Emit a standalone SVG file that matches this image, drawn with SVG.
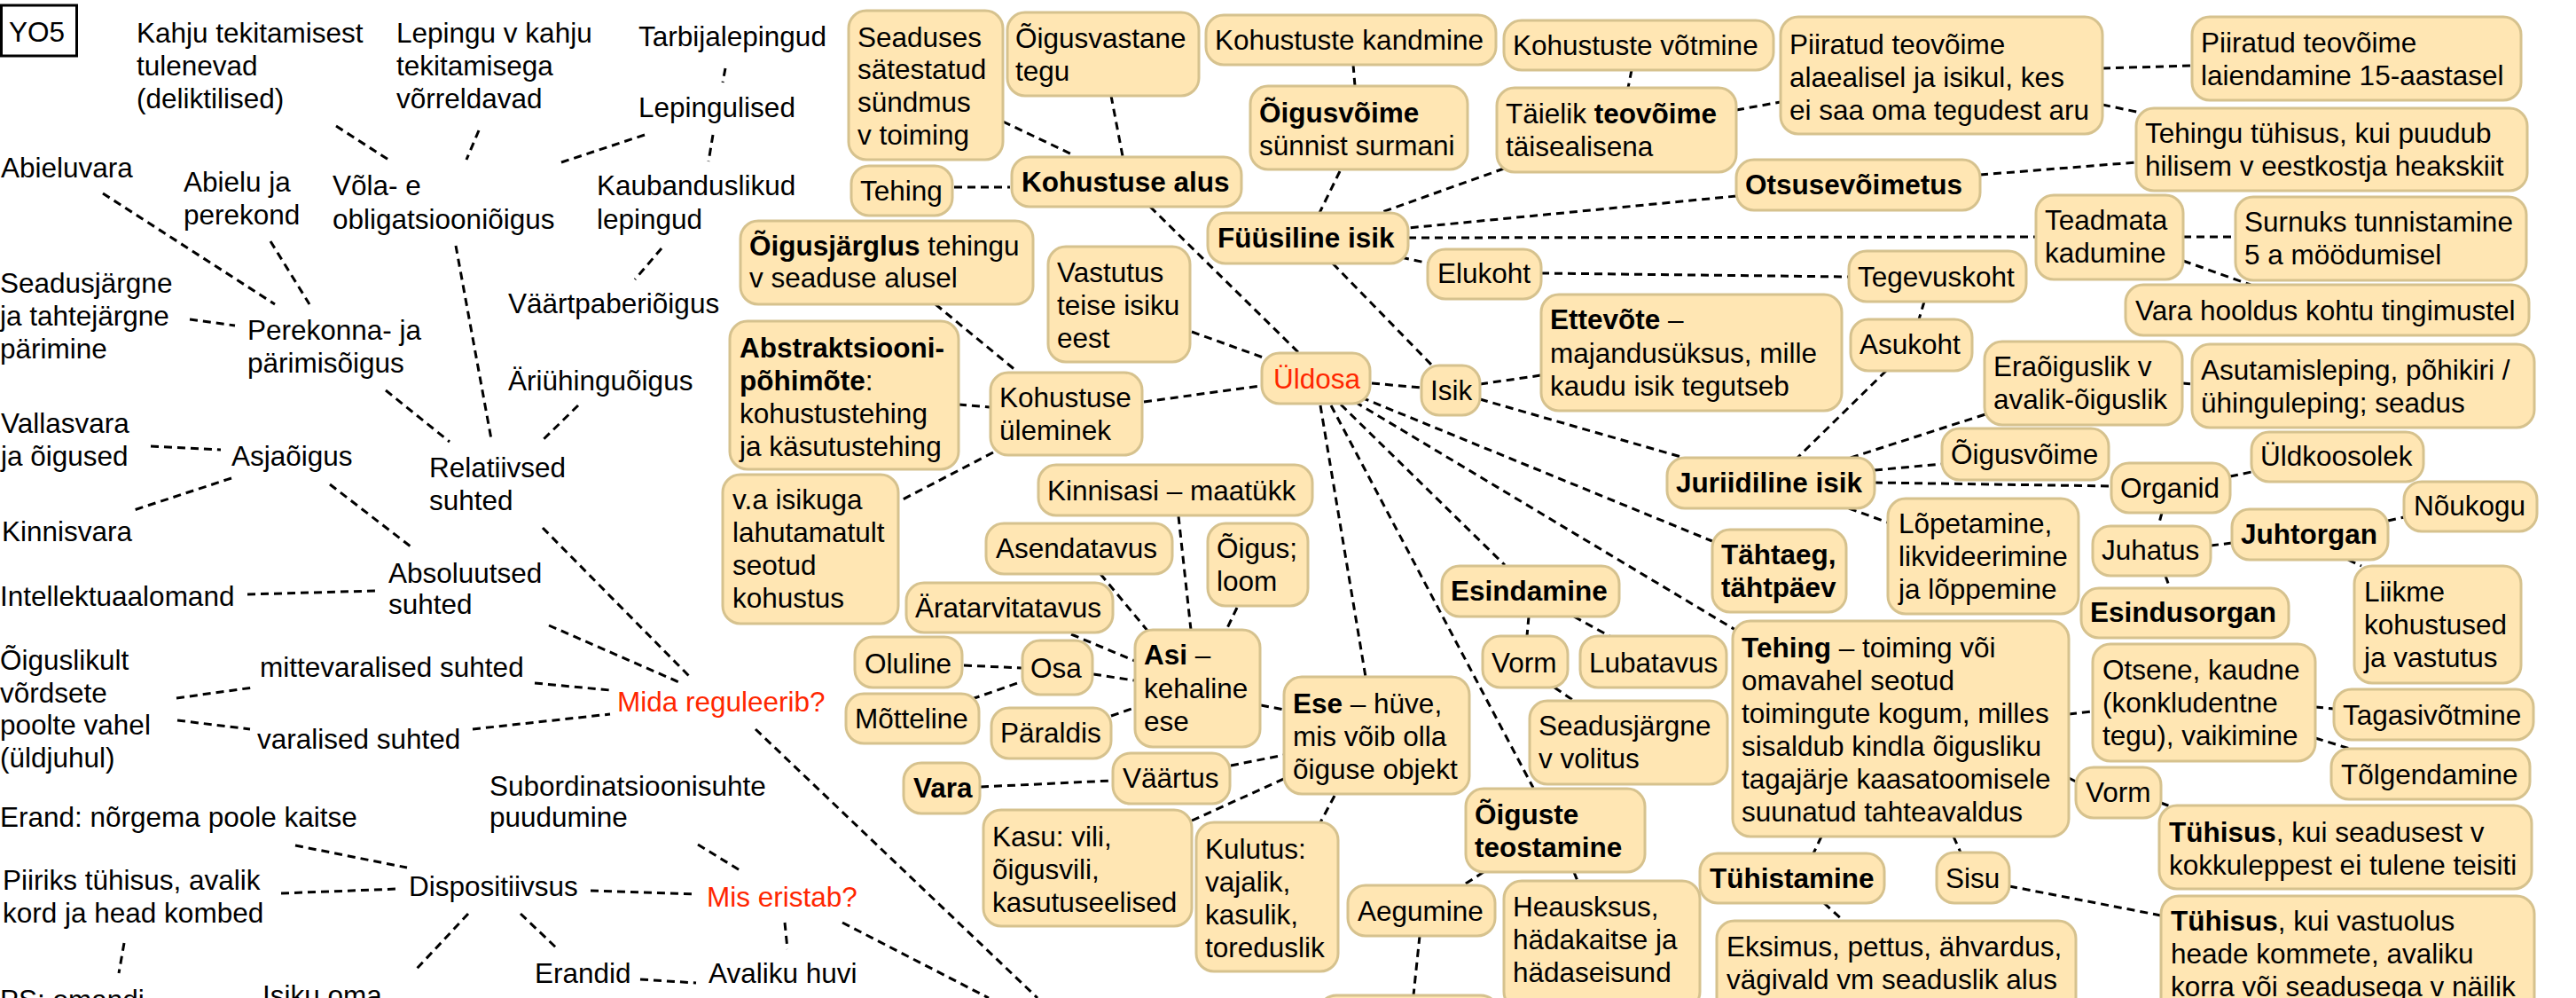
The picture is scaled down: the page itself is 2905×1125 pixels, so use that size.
<svg xmlns="http://www.w3.org/2000/svg" width="2905" height="1125" viewBox="0 0 2905 1125">
<style>
text{font-family:"Liberation Sans",Arial,Helvetica,sans-serif;font-size:31.5px;fill:#000}
.b{font-weight:bold}
.red{fill:#FF2600}
.box{fill:#FFE6B3;stroke:#D6C28E;stroke-width:3}
.c line{stroke:#000;stroke-width:3;stroke-dasharray:9 6}
</style>
<rect width="2905" height="1125" fill="#fff"/>
<g class="c">
<line x1="379" y1="142" x2="438" y2="180"/>
<line x1="540" y1="147" x2="526" y2="180"/>
<line x1="727" y1="152" x2="633" y2="183"/>
<line x1="818" y1="77" x2="815" y2="93"/>
<line x1="804" y1="152" x2="799" y2="182"/>
<line x1="746" y1="280" x2="716" y2="315"/>
<line x1="116" y1="218" x2="310" y2="343"/>
<line x1="305" y1="272" x2="349" y2="343"/>
<line x1="214" y1="360" x2="265" y2="367"/>
<line x1="514" y1="277" x2="554" y2="495"/>
<line x1="435" y1="440" x2="507" y2="498"/>
<line x1="652" y1="457" x2="610" y2="498"/>
<line x1="170" y1="503" x2="249" y2="507"/>
<line x1="261" y1="539" x2="151" y2="575"/>
<line x1="372" y1="546" x2="463" y2="616"/>
<line x1="279" y1="670" x2="424" y2="666"/>
<line x1="612" y1="595" x2="780" y2="765"/>
<line x1="619" y1="705" x2="768" y2="770"/>
<line x1="199" y1="787" x2="285" y2="775"/>
<line x1="200" y1="812" x2="282" y2="822"/>
<line x1="603" y1="770" x2="688" y2="778"/>
<line x1="533" y1="822" x2="688" y2="805"/>
<line x1="333" y1="953" x2="459" y2="978"/>
<line x1="317" y1="1007" x2="449" y2="1002"/>
<line x1="666" y1="1004" x2="785" y2="1008"/>
<line x1="787" y1="952" x2="836" y2="982"/>
<line x1="140" y1="1063" x2="134" y2="1097"/>
<line x1="528" y1="1030" x2="470" y2="1092"/>
<line x1="587" y1="1030" x2="629" y2="1070"/>
<line x1="722" y1="1104" x2="785" y2="1108"/>
<line x1="885" y1="1040" x2="888" y2="1070"/>
<line x1="950" y1="1040" x2="1115" y2="1125"/>
<line x1="852" y1="822" x2="1170" y2="1125"/>
<line x1="1131" y1="137" x2="1211" y2="175"/>
<line x1="1253" y1="108" x2="1266" y2="176"/>
<line x1="1076" y1="211" x2="1139" y2="211"/>
<line x1="1297" y1="233" x2="1465" y2="398"/>
<line x1="1055" y1="343" x2="1146" y2="418"/>
<line x1="1081" y1="456" x2="1116" y2="459"/>
<line x1="1290" y1="453" x2="1421" y2="435"/>
<line x1="1344" y1="374" x2="1430" y2="405"/>
<line x1="1120" y1="510" x2="1018" y2="563"/>
<line x1="1329" y1="582" x2="1343" y2="710"/>
<line x1="1241" y1="647" x2="1295" y2="712"/>
<line x1="1395" y1="685" x2="1383" y2="710"/>
<line x1="1208" y1="715" x2="1280" y2="745"/>
<line x1="1087" y1="750" x2="1152" y2="753"/>
<line x1="1233" y1="760" x2="1279" y2="767"/>
<line x1="1096" y1="788" x2="1153" y2="768"/>
<line x1="1253" y1="807" x2="1279" y2="798"/>
<line x1="1106" y1="887" x2="1254" y2="880"/>
<line x1="1388" y1="863" x2="1448" y2="851"/>
<line x1="1422" y1="795" x2="1448" y2="800"/>
<line x1="1344" y1="925" x2="1450" y2="877"/>
<line x1="1505" y1="897" x2="1489" y2="927"/>
<line x1="1489" y1="457" x2="1540" y2="763"/>
<line x1="1501" y1="457" x2="1729" y2="888"/>
<line x1="1512" y1="456" x2="1697" y2="637"/>
<line x1="1528" y1="453" x2="1957" y2="710"/>
<line x1="1535" y1="448" x2="1931" y2="610"/>
<line x1="1547" y1="432" x2="1603" y2="437"/>
<line x1="1669" y1="433" x2="1738" y2="423"/>
<line x1="1669" y1="450" x2="1899" y2="516"/>
<line x1="1503" y1="297" x2="1616" y2="413"/>
<line x1="1511" y1="193" x2="1488" y2="240"/>
<line x1="1526" y1="73" x2="1528" y2="97"/>
<line x1="1696" y1="190" x2="1556" y2="240"/>
<line x1="1840" y1="79" x2="1836" y2="99"/>
<line x1="1958" y1="124" x2="2008" y2="115"/>
<line x1="2371" y1="77" x2="2472" y2="74"/>
<line x1="2371" y1="118" x2="2414" y2="127"/>
<line x1="2233" y1="197" x2="2409" y2="183"/>
<line x1="1958" y1="221" x2="1588" y2="257"/>
<line x1="1588" y1="268" x2="2296" y2="267"/>
<line x1="1580" y1="290" x2="1612" y2="297"/>
<line x1="1738" y1="308" x2="2085" y2="312"/>
<line x1="2170" y1="340" x2="2164" y2="360"/>
<line x1="2462" y1="267" x2="2521" y2="267"/>
<line x1="2462" y1="294" x2="2538" y2="321"/>
<line x1="2127" y1="418" x2="2027" y2="516"/>
<line x1="2087" y1="516" x2="2239" y2="467"/>
<line x1="2461" y1="432" x2="2472" y2="433"/>
<line x1="2114" y1="530" x2="2190" y2="523"/>
<line x1="2114" y1="544" x2="2381" y2="548"/>
<line x1="2085" y1="573" x2="2129" y2="589"/>
<line x1="2515" y1="537" x2="2539" y2="532"/>
<line x1="2438" y1="578" x2="2434" y2="593"/>
<line x1="2493" y1="615" x2="2517" y2="612"/>
<line x1="2693" y1="587" x2="2711" y2="583"/>
<line x1="2648" y1="631" x2="2663" y2="638"/>
<line x1="2442" y1="649" x2="2447" y2="663"/>
<line x1="1724" y1="695" x2="1722" y2="717"/>
<line x1="1775" y1="695" x2="1815" y2="717"/>
<line x1="1753" y1="775" x2="1775" y2="790"/>
<line x1="1673" y1="983" x2="1650" y2="998"/>
<line x1="1775" y1="983" x2="1779" y2="993"/>
<line x1="1601" y1="1055" x2="1594" y2="1122"/>
<line x1="2054" y1="943" x2="2045" y2="962"/>
<line x1="2057" y1="1018" x2="2079" y2="1038"/>
<line x1="2333" y1="805" x2="2360" y2="802"/>
<line x1="2611" y1="797" x2="2632" y2="799"/>
<line x1="2611" y1="832" x2="2650" y2="844"/>
<line x1="2333" y1="877" x2="2341" y2="881"/>
<line x1="2437" y1="905" x2="2450" y2="910"/>
<line x1="2203" y1="943" x2="2211" y2="961"/>
<line x1="2266" y1="999" x2="2437" y2="1032"/>
</g>

<g id="yo5"><rect x="1.5" y="6" width="85" height="57" fill="#fff" stroke="#000" stroke-width="3"/><text x="10" y="47">YO5</text></g>
<g id="kahju"><text><tspan x="154" y="48">Kahju tekitamisest</tspan><tspan x="154" y="85">tulenevad</tspan><tspan x="154" y="122">(deliktilised)</tspan></text></g>
<g id="lepingu"><text><tspan x="447" y="48">Lepingu v kahju</tspan><tspan x="447" y="85">tekitamisega</tspan><tspan x="447" y="122">võrreldavad</tspan></text></g>
<g id="tarbija"><text x="720" y="52">Tarbijalepingud</text></g>
<g id="lepingulised"><text x="720" y="132">Lepingulised</text></g>
<g id="abieluvara"><text x="1" y="200">Abieluvara</text></g>
<g id="abielu"><text><tspan x="207" y="216">Abielu ja</tspan><tspan x="207" y="253">perekond</tspan></text></g>
<g id="vola"><text><tspan x="375" y="220">Võla- e</tspan><tspan x="375" y="258">obligatsiooniõigus</tspan></text></g>
<g id="kaubandus"><text><tspan x="673" y="220">Kaubanduslikud</tspan><tspan x="673" y="258">lepingud</tspan></text></g>
<g id="vaartpaber"><text x="573" y="353">Väärtpaberiõigus</text></g>
<g id="seadusjargne"><text><tspan x="0" y="330">Seadusjärgne</tspan><tspan x="0" y="367">ja tahtejärgne</tspan><tspan x="0" y="404">pärimine</tspan></text></g>
<g id="perekonna"><text><tspan x="279" y="383">Perekonna- ja</tspan><tspan x="279" y="420">pärimisõigus</tspan></text></g>
<g id="ariuhingu"><text x="573" y="440">Äriühinguõigus</text></g>
<g id="relatiivsed"><text><tspan x="484" y="538">Relatiivsed</tspan><tspan x="484" y="575">suhted</tspan></text></g>
<g id="vallasvara"><text><tspan x="1" y="488">Vallasvara</tspan><tspan x="1" y="525">ja õigused</tspan></text></g>
<g id="asjaoigus"><text x="261" y="525">Asjaõigus</text></g>
<g id="kinnisvara"><text x="2" y="610">Kinnisvara</text></g>
<g id="absoluutsed"><text><tspan x="438" y="657">Absoluutsed</tspan><tspan x="438" y="692">suhted</tspan></text></g>
<g id="intellektuaal"><text x="0" y="683">Intellektuaalomand</text></g>
<g id="oiguslikult"><text><tspan x="0" y="755">Õiguslikult</tspan><tspan x="0" y="792">võrdsete</tspan><tspan x="0" y="828">poolte vahel</tspan><tspan x="0" y="865">(üldjuhul)</tspan></text></g>
<g id="mittevaralised"><text x="293" y="763">mittevaralised suhted</text></g>
<g id="varalised"><text x="290" y="844">varalised suhted</text></g>
<g id="mida"><text class="red" x="696" y="802">Mida reguleerib?</text></g>
<g id="subordinatsioon"><text><tspan x="552" y="897">Subordinatsioonisuhte</tspan><tspan x="552" y="932">puudumine</tspan></text></g>
<g id="erand"><text x="0" y="932">Erand: nõrgema poole kaitse</text></g>
<g id="piiriks"><text><tspan x="3" y="1003">Piiriks tühisus, avalik</tspan><tspan x="3" y="1040">kord ja head kombed</tspan></text></g>
<g id="dispositiivsus"><text x="461" y="1010">Dispositiivsus</text></g>
<g id="miseristab"><text class="red" x="797" y="1022">Mis eristab?</text></g>
<g id="erandid"><text x="603" y="1108">Erandid</text></g>
<g id="avaliku"><text x="799" y="1108">Avaliku huvi</text></g>
<g id="isikuoma"><text x="296" y="1133">Isiku oma</text></g>
<g id="ps"><text x="0" y="1138">PS: omandi</text></g>

<g id="seaduses"><rect class="box" x="957" y="12" width="174" height="168" rx="20"/><text><tspan x="967" y="53">Seaduses</tspan><tspan x="967" y="89">sätestatud</tspan><tspan x="967" y="126">sündmus</tspan><tspan x="967" y="163">v toiming</tspan></text></g>
<g id="oigusvastane"><rect class="box" x="1136" y="14" width="216" height="94" rx="20"/><text><tspan x="1145" y="54">Õigusvastane</tspan><tspan x="1145" y="91">tegu</tspan></text></g>
<g id="tehing1"><rect class="box" x="960" y="187" width="114" height="56" rx="20"/><text x="970" y="226">Tehing</text></g>
<g id="kohustusealus"><rect class="box" x="1141" y="177" width="259" height="56" rx="20"/><text class="b" x="1152" y="216">Kohustuse alus</text></g>
<g id="kandmine"><rect class="box" x="1360" y="17" width="327" height="56" rx="20"/><text x="1370" y="56">Kohustuste kandmine</text></g>
<g id="oigusvoime1"><rect class="box" x="1410" y="97" width="245" height="94" rx="20"/><text><tspan x="1420" y="138" class="b">Õigusvõime</tspan><tspan x="1420" y="175">sünnist surmani</tspan></text></g>
<g id="votmine"><rect class="box" x="1696" y="23" width="304" height="56" rx="20"/><text x="1706" y="62">Kohustuste võtmine</text></g>
<g id="taielik"><rect class="box" x="1688" y="99" width="270" height="95" rx="20"/><text><tspan x="1698" y="139">Täielik <tspan class="b">teovõime</tspan></tspan><tspan x="1698" y="176">täisealisena</tspan></text></g>
<g id="piiratud"><rect class="box" x="2008" y="19" width="363" height="132" rx="20"/><text><tspan x="2018" y="61">Piiratud teovõime</tspan><tspan x="2018" y="98">alaealisel ja isikul, kes</tspan><tspan x="2018" y="135">ei saa oma tegudest aru</tspan></text></g>
<g id="piiratud15"><rect class="box" x="2472" y="19" width="371" height="94" rx="20"/><text><tspan x="2482" y="59">Piiratud teovõime</tspan><tspan x="2482" y="96">laiendamine 15-aastasel</tspan></text></g>
<g id="tehingututhisus"><rect class="box" x="2409" y="122" width="441" height="93" rx="20"/><text><tspan x="2419" y="161">Tehingu tühisus, kui puudub</tspan><tspan x="2419" y="198">hilisem v eestkostja heakskiit</tspan></text></g>
<g id="otsusevoimetus"><rect class="box" x="1958" y="180" width="275" height="57" rx="20"/><text class="b" x="1968" y="219">Otsusevõimetus</text></g>
<g id="fuusiline"><rect class="box" x="1362" y="240" width="226" height="57" rx="20"/><text class="b" x="1373" y="279">Füüsiline isik</text></g>
<g id="elukoht"><rect class="box" x="1610" y="281" width="128" height="56" rx="20"/><text x="1621" y="319">Elukoht</text></g>
<g id="tegevuskoht"><rect class="box" x="2085" y="283" width="200" height="57" rx="20"/><text x="2095" y="323">Tegevuskoht</text></g>
<g id="teadmata"><rect class="box" x="2296" y="220" width="166" height="95" rx="20"/><text><tspan x="2306" y="259">Teadmata</tspan><tspan x="2306" y="296">kadumine</tspan></text></g>
<g id="surnuks"><rect class="box" x="2521" y="222" width="328" height="94" rx="20"/><text><tspan x="2531" y="261">Surnuks tunnistamine</tspan><tspan x="2531" y="298">5 a möödumisel</tspan></text></g>
<g id="varahooldus"><rect class="box" x="2397" y="321" width="455" height="57" rx="20"/><text x="2408" y="361">Vara hooldus kohtu tingimustel</text></g>
<g id="ettevote"><rect class="box" x="1738" y="332" width="339" height="131" rx="20"/><text><tspan x="1748" y="371"><tspan class="b">Ettevõte</tspan> –</tspan><tspan x="1748" y="409">majandusüksus, mille</tspan><tspan x="1748" y="446">kaudu isik tegutseb</tspan></text></g>
<g id="asukoht"><rect class="box" x="2087" y="360" width="137" height="58" rx="20"/><text x="2097" y="399">Asukoht</text></g>
<g id="oigusjarglus"><rect class="box" x="835" y="249" width="330" height="94" rx="20"/><text><tspan x="845" y="288"><tspan class="b">Õigusjärglus</tspan> tehingu</tspan><tspan x="845" y="324">v seaduse alusel</tspan></text></g>
<g id="vastutus"><rect class="box" x="1182" y="278" width="160" height="130" rx="20"/><text><tspan x="1192" y="318">Vastutus</tspan><tspan x="1192" y="355">teise isiku</tspan><tspan x="1192" y="392">eest</tspan></text></g>
<g id="abstraktsiooni"><rect class="box" x="823" y="362" width="258" height="167" rx="20"/><text><tspan x="834" y="403" class="b">Abstraktsiooni-</tspan><tspan x="834" y="440"><tspan class="b">põhimõte</tspan>:</tspan><tspan x="834" y="477">kohustustehing</tspan><tspan x="834" y="514">ja käsutustehing</tspan></text></g>
<g id="uleminek"><rect class="box" x="1117" y="420" width="171" height="93" rx="20"/><text><tspan x="1127" y="459">Kohustuse</tspan><tspan x="1127" y="496">üleminek</tspan></text></g>
<g id="vaisikuga"><rect class="box" x="815" y="535" width="198" height="168" rx="20"/><text><tspan x="826" y="574">v.a isikuga</tspan><tspan x="826" y="611">lahutamatult</tspan><tspan x="826" y="648">seotud</tspan><tspan x="826" y="685">kohustus</tspan></text></g>
<g id="uldosa"><rect class="box" x="1423" y="398" width="122" height="57" rx="20"/><text class="red" x="1436" y="438">Üldosa</text></g>
<g id="isik"><rect class="box" x="1603" y="412" width="66" height="56" rx="20"/><text x="1613" y="451">Isik</text></g>
<g id="eraoiguslik"><rect class="box" x="2238" y="385" width="223" height="94" rx="20"/><text><tspan x="2248" y="424">Eraõiguslik v</tspan><tspan x="2248" y="461">avalik-õiguslik</tspan></text></g>
<g id="asutamisleping"><rect class="box" x="2472" y="388" width="386" height="94" rx="20"/><text><tspan x="2482" y="428">Asutamisleping, põhikiri /</tspan><tspan x="2482" y="465">ühinguleping; seadus</tspan></text></g>
<g id="juriidiline"><rect class="box" x="1880" y="516" width="234" height="57" rx="20"/><text class="b" x="1890" y="555">Juriidiline isik</text></g>
<g id="oigusvoime2"><rect class="box" x="2190" y="483" width="188" height="58" rx="20"/><text x="2200" y="523">Õigusvõime</text></g>
<g id="organid"><rect class="box" x="2381" y="522" width="134" height="56" rx="20"/><text x="2391" y="561">Organid</text></g>
<g id="uldkoosolek"><rect class="box" x="2539" y="487" width="194" height="56" rx="20"/><text x="2549" y="525">Üldkoosolek</text></g>
<g id="noukogu"><rect class="box" x="2711" y="543" width="150" height="56" rx="20"/><text x="2722" y="581">Nõukogu</text></g>
<g id="juhatus"><rect class="box" x="2360" y="593" width="133" height="56" rx="20"/><text x="2370" y="631">Juhatus</text></g>
<g id="juhtorgan"><rect class="box" x="2517" y="574" width="176" height="57" rx="20"/><text class="b" x="2527" y="613">Juhtorgan</text></g>
<g id="lopetamine"><rect class="box" x="2129" y="562" width="215" height="130" rx="20"/><text><tspan x="2141" y="601">Lõpetamine,</tspan><tspan x="2141" y="638">likvideerimine</tspan><tspan x="2141" y="675">ja lõppemine</tspan></text></g>
<g id="liikme"><rect class="box" x="2655" y="638" width="188" height="132" rx="20"/><text><tspan x="2666" y="678">Liikme</tspan><tspan x="2666" y="715">kohustused</tspan><tspan x="2666" y="752">ja vastutus</tspan></text></g>
<g id="esindusorgan"><rect class="box" x="2347" y="663" width="234" height="56" rx="20"/><text class="b" x="2357" y="701">Esindusorgan</text></g>
<g id="tahtaeg"><rect class="box" x="1931" y="597" width="151" height="93" rx="20"/><text class="b"><tspan x="1941" y="636">Tähtaeg,</tspan><tspan x="1941" y="673">tähtpäev</tspan></text></g>
<g id="kinnisasi"><rect class="box" x="1171" y="524" width="309" height="57" rx="20"/><text x="1181" y="564">Kinnisasi – maatükk</text></g>
<g id="asendatavus"><rect class="box" x="1112" y="590" width="210" height="57" rx="20"/><text x="1123" y="629">Asendatavus</text></g>
<g id="oigusloom"><rect class="box" x="1362" y="590" width="113" height="93" rx="20"/><text><tspan x="1372" y="629">Õigus;</tspan><tspan x="1372" y="666">loom</tspan></text></g>
<g id="aratarvitatavus"><rect class="box" x="1022" y="657" width="233" height="56" rx="20"/><text x="1032" y="696">Äratarvitatavus</text></g>
<g id="esindamine"><rect class="box" x="1626" y="638" width="200" height="57" rx="20"/><text class="b" x="1636" y="677">Esindamine</text></g>
<g id="vorm1"><rect class="box" x="1672" y="717" width="96" height="58" rx="20"/><text x="1682" y="758">Vorm</text></g>
<g id="lubatavus"><rect class="box" x="1782" y="717" width="165" height="58" rx="20"/><text x="1792" y="758">Lubatavus</text></g>
<g id="tehing2"><rect class="box" x="1954" y="700" width="379" height="243" rx="20"/><text><tspan x="1964" y="741"><tspan class="b">Tehing</tspan> – toiming või</tspan><tspan x="1964" y="778">omavahel seotud</tspan><tspan x="1964" y="815">toimingute kogum, milles</tspan><tspan x="1964" y="852">sisaldub kindla õigusliku</tspan><tspan x="1964" y="889">tagajärje kaasatoomisele</tspan><tspan x="1964" y="926">suunatud tahteavaldus</tspan></text></g>
<g id="asi"><rect class="box" x="1280" y="710" width="141" height="132" rx="20"/><text><tspan x="1290" y="749"><tspan class="b">Asi</tspan> –</tspan><tspan x="1290" y="787">kehaline</tspan><tspan x="1290" y="824">ese</tspan></text></g>
<g id="oluline"><rect class="box" x="964" y="718" width="121" height="57" rx="20"/><text x="975" y="759">Oluline</text></g>
<g id="osa"><rect class="box" x="1153" y="722" width="79" height="61" rx="20"/><text x="1162" y="764">Osa</text></g>
<g id="motteline"><rect class="box" x="954" y="782" width="150" height="56" rx="20"/><text x="964" y="821">Mõtteline</text></g>
<g id="paraldis"><rect class="box" x="1118" y="798" width="135" height="57" rx="20"/><text x="1128" y="837">Päraldis</text></g>
<g id="vara"><rect class="box" x="1019" y="860" width="86" height="57" rx="20"/><text class="b" x="1030" y="899">Vara</text></g>
<g id="vaartus"><rect class="box" x="1255" y="849" width="132" height="57" rx="20"/><text x="1266" y="888">Väärtus</text></g>
<g id="ese"><rect class="box" x="1448" y="763" width="209" height="132" rx="20"/><text><tspan x="1458" y="804"><tspan class="b">Ese</tspan> – hüve,</tspan><tspan x="1458" y="841">mis võib olla</tspan><tspan x="1458" y="878">õiguse objekt</tspan></text></g>
<g id="seadusjargne2"><rect class="box" x="1725" y="790" width="223" height="94" rx="20"/><text><tspan x="1735" y="829">Seadusjärgne</tspan><tspan x="1735" y="866">v volitus</tspan></text></g>
<g id="otsene"><rect class="box" x="2360" y="726" width="251" height="132" rx="20"/><text><tspan x="2371" y="766">Otsene, kaudne</tspan><tspan x="2371" y="803">(konkludentne</tspan><tspan x="2371" y="840">tegu), vaikimine</tspan></text></g>
<g id="tagasivotmine"><rect class="box" x="2632" y="777" width="225" height="57" rx="20"/><text x="2642" y="817">Tagasivõtmine</text></g>
<g id="tolgendamine"><rect class="box" x="2629" y="844" width="224" height="57" rx="20"/><text x="2640" y="884">Tõlgendamine</text></g>
<g id="vorm2"><rect class="box" x="2341" y="865" width="96" height="57" rx="20"/><text x="2352" y="904">Vorm</text></g>
<g id="tuhisus1"><rect class="box" x="2435" y="908" width="420" height="94" rx="20"/><text><tspan x="2446" y="949"><tspan class="b">Tühisus</tspan>, kui seadusest v</tspan><tspan x="2446" y="986">kokkuleppest ei tulene teisiti</tspan></text></g>
<g id="kasu"><rect class="box" x="1109" y="913" width="235" height="131" rx="20"/><text><tspan x="1119" y="954">Kasu: vili,</tspan><tspan x="1119" y="991">õigusvili,</tspan><tspan x="1119" y="1028">kasutuseelised</tspan></text></g>
<g id="kulutus"><rect class="box" x="1349" y="927" width="160" height="168" rx="20"/><text><tspan x="1359" y="968">Kulutus:</tspan><tspan x="1359" y="1005">vajalik,</tspan><tspan x="1359" y="1042">kasulik,</tspan><tspan x="1359" y="1079">toreduslik</tspan></text></g>
<g id="oigusteteostamine"><rect class="box" x="1653" y="889" width="202" height="94" rx="20"/><text class="b"><tspan x="1663" y="929">Õiguste</tspan><tspan x="1663" y="966">teostamine</tspan></text></g>
<g id="tuhistamine"><rect class="box" x="1917" y="962" width="208" height="56" rx="20"/><text class="b" x="1928" y="1001">Tühistamine</text></g>
<g id="sisu"><rect class="box" x="2184" y="961" width="82" height="57" rx="20"/><text x="2194" y="1001">Sisu</text></g>
<g id="aegumine"><rect class="box" x="1520" y="998" width="166" height="57" rx="20"/><text x="1531" y="1038">Aegumine</text></g>
<g id="heausksus"><rect class="box" x="1696" y="993" width="221" height="145" rx="20"/><text><tspan x="1706" y="1033">Heausksus,</tspan><tspan x="1706" y="1070">hädakaitse ja</tspan><tspan x="1706" y="1107">hädaseisund</tspan></text></g>
<g id="eksimus"><rect class="box" x="1936" y="1038" width="405" height="120" rx="20"/><text><tspan x="1947" y="1078">Eksimus, pettus, ähvardus,</tspan><tspan x="1947" y="1115">vägivald vm seaduslik alus</tspan></text></g>
<g id="tuhisus2"><rect class="box" x="2437" y="1010" width="421" height="140" rx="20"/><text><tspan x="2448" y="1049"><tspan class="b">Tühisus</tspan>, kui vastuolus</tspan><tspan x="2448" y="1086">heade kommete, avaliku</tspan><tspan x="2448" y="1123">korra või seadusega v näilik</tspan></text></g>
<g id="bottombox"><rect class="box" x="1487" y="1122" width="203" height="60" rx="20"/></g>
</svg>
